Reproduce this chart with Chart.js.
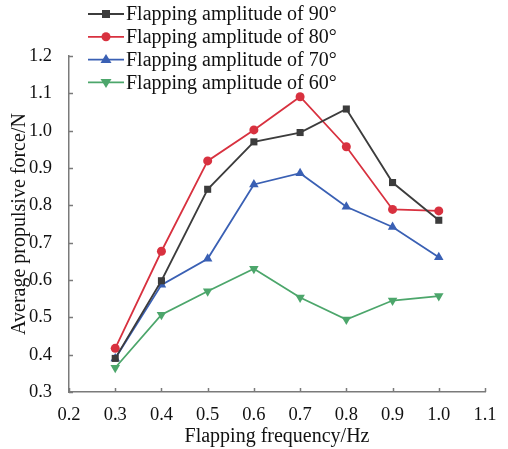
<!DOCTYPE html>
<html>
<head>
<meta charset="utf-8">
<script src="https://cdn.jsdelivr.net/npm/chart.js@4"></script>
<style>
  html, body { margin: 0; padding: 0; background: #fff; }
  #wrap { width: 508px; height: 449px; }
</style>
</head>
<body>
<div id="wrap"><canvas id="myChart" width="508" height="449"></canvas></div>
<script>
const frequency = [0.3, 0.4, 0.5, 0.6, 0.7, 0.8, 0.9, 1.0];
const amp90 = [0.39, 0.598, 0.843, 0.97, 0.995, 1.058, 0.861, 0.76];
const amp80 = [0.417, 0.677, 0.919, 1.002, 1.091, 0.957, 0.789, 0.785];
const amp70 = [0.39, 0.587, 0.657, 0.856, 0.886, 0.796, 0.742, 0.661];
const amp60 = [0.365, 0.507, 0.57, 0.63, 0.553, 0.494, 0.545, 0.557];
const seriesNames = ['Flapping amplitude of 90°', 'Flapping amplitude of 80°', 'Flapping amplitude of 70°', 'Flapping amplitude of 60°'];
const xTicks = [0.2, 0.3, 0.4, 0.5, 0.6, 0.7, 0.8, 0.9, 1.0, 1.1];
const yTicks = [0.3, 0.4, 0.5, 0.6, 0.7, 0.8, 0.9, 1.0, 1.1, 1.2];

const FONT = '"Liberation Serif", "Times New Roman", serif';
const axisColor = '#7a7a7a';

function pts(ys) {
    return frequency.map((x, i) => ({ x: x, y: ys[i] }));
}

function makeSet(label, ys, color, style, rot, radius) {
    return {
        label: label,
        data: pts(ys),
        borderColor: color,
        backgroundColor: color,
        borderWidth: 1.8,
        pointStyle: style,
        pointRotation: rot,
        pointRadius: radius,
        pointBorderWidth: 0,
        pointBackgroundColor: color,
        tension: 0,
        fill: false,
    };
}

// draws inward tick marks and the custom legend on top of the plot
const extras = {
    id: 'extras',
    afterDraw(chart) {
        const ctx = chart.ctx;
        const xs = chart.scales.x, ys = chart.scales.y;
        ctx.save();
        ctx.strokeStyle = axisColor;
        ctx.lineWidth = 1.5;
        xTicks.forEach(v => {
            const px = Math.round(xs.getPixelForValue(v)) + 0.5;
            ctx.beginPath();
            ctx.moveTo(px, ys.bottom);
            ctx.lineTo(px, ys.bottom - 4);
            ctx.stroke();
        });
        yTicks.forEach(v => {
            const py = Math.round(ys.getPixelForValue(v)) + 0.5;
            ctx.beginPath();
            ctx.moveTo(xs.left, py);
            ctx.lineTo(xs.left + 4, py);
            ctx.stroke();
        });

        // legend
        ctx.font = '20px ' + FONT;
        ctx.textBaseline = 'middle';
        chart.data.datasets.forEach((ds, i) => {
            const y = 14 + i * 22.8;
            ctx.strokeStyle = ds.borderColor;
            ctx.lineWidth = 1.8;
            ctx.beginPath();
            ctx.moveTo(88, y);
            ctx.lineTo(124, y);
            ctx.stroke();
            ctx.fillStyle = ds.borderColor;
            const cx = 106, r = ds.pointRadius;
            ctx.beginPath();
            if (ds.pointStyle === 'rect') {
                ctx.rect(cx - r * 0.8, y - r * 0.8, r * 1.6, r * 1.6);
            } else if (ds.pointStyle === 'circle') {
                ctx.arc(cx, y, r, 0, Math.PI * 2);
            } else if (ds.pointRotation === 180) {
                ctx.moveTo(cx - r, y - r * 0.6);
                ctx.lineTo(cx + r, y - r * 0.6);
                ctx.lineTo(cx, y + r);
            } else {
                ctx.moveTo(cx - r, y + r * 0.6);
                ctx.lineTo(cx + r, y + r * 0.6);
                ctx.lineTo(cx, y - r);
            }
            ctx.fill();
            ctx.fillStyle = '#111';
            ctx.fillText(ds.label, 126, y + 1);
        });
        ctx.restore();
    }
};

const ctx = document.getElementById('myChart').getContext('2d');
const myChart = new Chart(ctx, {
    type: 'line',
    data: {
        datasets: [
            makeSet(seriesNames[0], amp90, '#3c3c3c', 'rect', 0, 5),
            makeSet(seriesNames[1], amp80, '#d8313f', 'circle', 0, 4.5),
            makeSet(seriesNames[2], amp70, '#3a60b4', 'triangle', 0, 5.5),
            makeSet(seriesNames[3], amp60, '#4ca66b', 'triangle', 180, 5.5),
        ]
    },
    options: {
        responsive: false,
        animation: false,
        layout: { padding: { top: 56, right: 23, left: 8, bottom: 0 } },
        plugins: {
            legend: { display: false },
            tooltip: { enabled: false },
        },
        scales: {
            x: {
                type: 'linear',
                min: 0.2,
                max: 1.1,
                afterBuildTicks: s => { s.ticks = xTicks.map(v => ({ value: v })); },
                afterFit: s => { s.height = 57; },
                grid: { display: false },
                border: { color: axisColor, width: 1.5 },
                ticks: {
                    color: '#111',
                    font: { family: FONT, size: 18.5 },
                    padding: 4,
                    maxRotation: 0,
                    autoSkip: false,
                    callback: v => v.toFixed(1),
                },
                title: {
                    display: true,
                    text: 'Flapping frequency/Hz',
                    color: '#111',
                    font: { family: FONT, size: 20 },
                    padding: { top: 2, bottom: 0 },
                },
            },
            y: {
                min: 0.3,
                max: 1.2,
                afterBuildTicks: s => { s.ticks = yTicks.map(v => ({ value: v })); },
                afterFit: s => { s.width = 61; },
                grid: { display: false },
                border: { color: axisColor, width: 1.5 },
                ticks: {
                    color: '#111',
                    font: { family: FONT, size: 18.5 },
                    padding: 9,
                    autoSkip: false,
                    callback: v => v.toFixed(1),
                },
                title: {
                    display: true,
                    text: 'Average propulsive force/N',
                    color: '#111',
                    font: { family: FONT, size: 20 },
                    padding: { top: 0, bottom: 2 },
                },
            },
        },
    },
    plugins: [extras],
});
</script>
</body>
</html>
